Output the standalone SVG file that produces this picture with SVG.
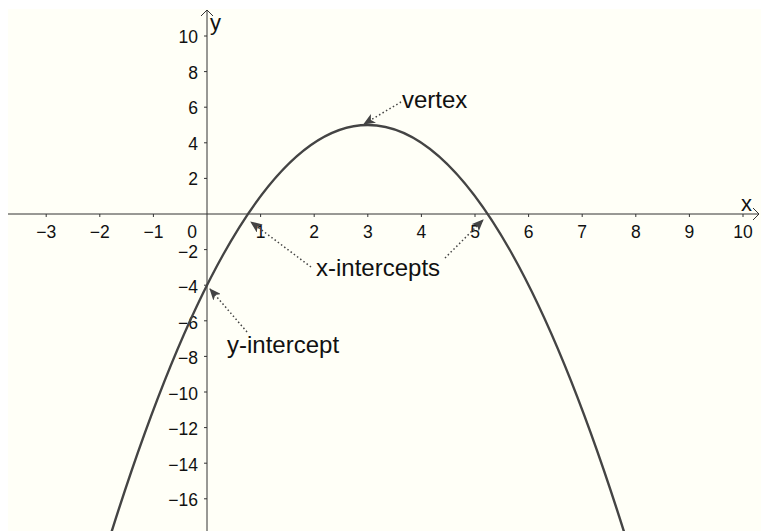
<svg xmlns="http://www.w3.org/2000/svg" width="761" height="531" viewBox="0 0 761 531">
<defs>
<style>
.ax{stroke:#333;stroke-width:1;fill:none}
.tk{stroke:#333;stroke-width:1}
.num{font-family:"Liberation Sans",Arial,sans-serif;font-size:17.5px;fill:#111}
.xl{text-anchor:middle}
.yl{text-anchor:end}
.lab{font-family:"Liberation Sans",Arial,sans-serif;font-size:24px;fill:#111}
.curve{stroke:#444;stroke-width:2.4;fill:none}
.conn{stroke:#444;stroke-width:1.5;stroke-dasharray:1.5 2.5;fill:none}
</style>
<marker id="ah" viewBox="0 0 12 10" refX="11" refY="5" markerWidth="12" markerHeight="10" markerUnits="userSpaceOnUse" orient="auto">
<path d="M0,0 L12,5 L0,10 L3,5 Z" fill="#444"/>
</marker>
</defs>
<rect x="8" y="9" width="753" height="522" fill="#fffff7"/>
<g id="axes">
<line class="ax" x1="8" y1="214" x2="759" y2="214"/>
<polyline class="ax" points="753,208 759,214 753,220"/>
<line class="ax" x1="207" y1="531" x2="207" y2="10"/>
<polyline class="ax" points="201,16 207,10 213,16"/>
<g class="tk">
<line x1="46.2" y1="214" x2="46.2" y2="217"/>
<line x1="99.8" y1="214" x2="99.8" y2="217"/>
<line x1="153.4" y1="214" x2="153.4" y2="217"/>
<line x1="260.6" y1="214" x2="260.6" y2="217"/>
<line x1="314.2" y1="214" x2="314.2" y2="217"/>
<line x1="367.8" y1="214" x2="367.8" y2="217"/>
<line x1="421.4" y1="214" x2="421.4" y2="217"/>
<line x1="475" y1="214" x2="475" y2="217"/>
<line x1="528.6" y1="214" x2="528.6" y2="217"/>
<line x1="582.2" y1="214" x2="582.2" y2="217"/>
<line x1="635.8" y1="214" x2="635.8" y2="217"/>
<line x1="689.4" y1="214" x2="689.4" y2="217"/>
<line x1="743" y1="214" x2="743" y2="217"/>
<line x1="204" y1="36" x2="207" y2="36"/>
<line x1="204" y1="71.6" x2="207" y2="71.6"/>
<line x1="204" y1="107.2" x2="207" y2="107.2"/>
<line x1="204" y1="142.8" x2="207" y2="142.8"/>
<line x1="204" y1="178.4" x2="207" y2="178.4"/>
<line x1="204" y1="249.6" x2="207" y2="249.6"/>
<line x1="204" y1="285.2" x2="207" y2="285.2"/>
<line x1="204" y1="320.8" x2="207" y2="320.8"/>
<line x1="204" y1="356.4" x2="207" y2="356.4"/>
<line x1="204" y1="392" x2="207" y2="392"/>
<line x1="204" y1="427.6" x2="207" y2="427.6"/>
<line x1="204" y1="463.2" x2="207" y2="463.2"/>
<line x1="204" y1="498.8" x2="207" y2="498.8"/>
</g>
<g class="num xl">
<text x="46.2" y="237.5">−3</text>
<text x="99.8" y="237.5">−2</text>
<text x="153.4" y="237.5">−1</text>
<text x="192" y="237.5">0</text>
<text x="260.6" y="237.5">1</text>
<text x="314.2" y="237.5">2</text>
<text x="367.8" y="237.5">3</text>
<text x="421.4" y="237.5">4</text>
<text x="475" y="237.5">5</text>
<text x="528.6" y="237.5">6</text>
<text x="582.2" y="237.5">7</text>
<text x="635.8" y="237.5">8</text>
<text x="689.4" y="237.5">9</text>
<text x="743" y="237.5">10</text>
</g>
<g class="num yl">
<text x="198" y="43">10</text>
<text x="198" y="78.5">8</text>
<text x="198" y="114">6</text>
<text x="198" y="149.5">4</text>
<text x="198" y="185">2</text>
<text x="198" y="257.5">−2</text>
<text x="198" y="293">−4</text>
<text x="198" y="328.5">−6</text>
<text x="198" y="364">−8</text>
<text x="198" y="399.5">−10</text>
<text x="198" y="435">−12</text>
<text x="198" y="470.5">−14</text>
<text x="198" y="506">−16</text>
</g>
<text class="lab" x="741" y="211" style="font-size:22px">x</text>
<text class="lab" x="210" y="30" style="font-size:22px">y</text>
</g>
<g id="parabola">
<path class="curve" d="M99.8,570 Q367.8,-320 635.8,570"/>
</g>
<g id="connectors">
<line class="conn" x1="401" y1="102" x2="364" y2="124" marker-end="url(#ah)"/>
<line class="conn" x1="311" y1="267" x2="251" y2="222" marker-end="url(#ah)"/>
<line class="conn" x1="445" y1="258" x2="483" y2="220" marker-end="url(#ah)"/>
<line class="conn" x1="247" y1="332" x2="210" y2="289" marker-end="url(#ah)"/>
</g>
<g id="label-vertex"><text class="lab" x="402" y="108">vertex</text></g>
<g id="label-x-intercepts"><text class="lab" x="316" y="276">x-intercepts</text></g>
<g id="label-y-intercept"><text class="lab" x="227" y="353">y-intercept</text></g>
</svg>
